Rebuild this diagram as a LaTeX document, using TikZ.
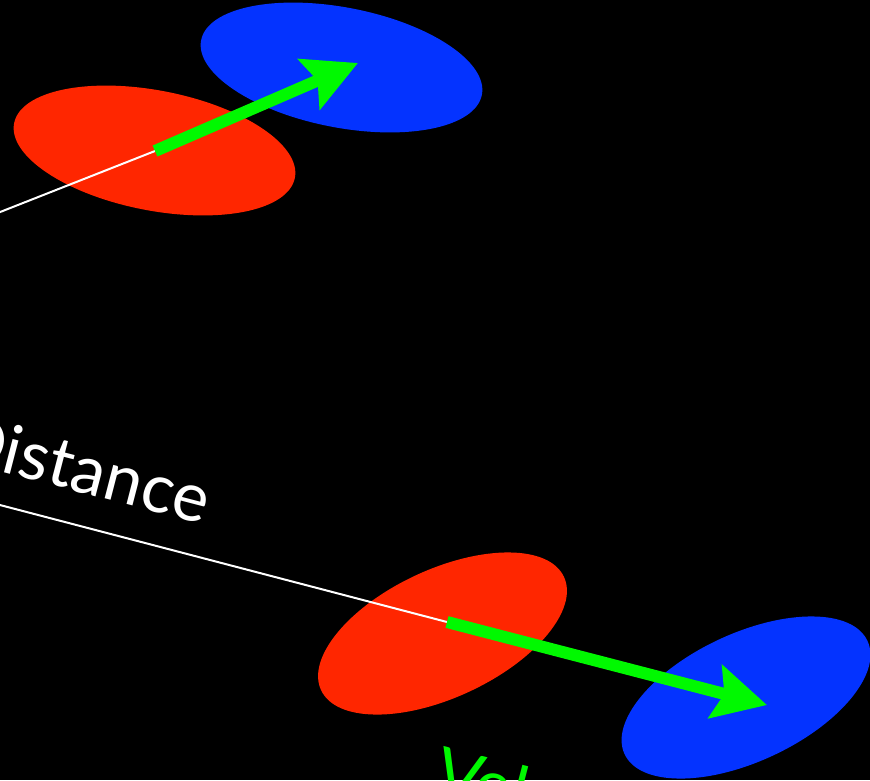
\documentclass[tikz,border=0pt]{standalone}
\usepackage{fontspec}
\setmainfont{Lato}
\usetikzlibrary{arrows.meta}
\definecolor{ballred}{RGB}{255,38,0}
\definecolor{ballblue}{RGB}{4,51,255}
\definecolor{velgreen}{RGB}{0,249,0}

\begin{document}
\begin{tikzpicture}[x=1pt,y=-1pt,
  guide/.style={draw=white,line width=2pt},
  velarrow/.style={draw=velgreen,fill=velgreen,line width=12pt,
    -{Stealth[length=53pt,width=54pt,inset=9pt]}},
  lbl/.style={font=\fontsize{68}{74}\selectfont,inner sep=0pt}]
  \useasboundingbox (0,0) rectangle (870,780);
  \fill[black] (0,0) rectangle (870,780);
  \clip (0,0) rectangle (870,780);
  % upper pair
  \begin{scope}
    \coordinate (r1) at (154.5,150.5);
    \coordinate (b1) at (341.5,67.5);
    \coordinate (g1) at (-10,216);
    \coordinate (s1) at (155,151);
    \coordinate (t1) at (358,63);
    \fill[ballblue,rotate around={-11:(b1)}] (b1) ellipse (143 and 60);
    \fill[ballred,rotate around={-11:(r1)}] (r1) ellipse (143 and 60);
    \draw[guide] (g1) -- (s1);
    \draw[velarrow] (s1) -- (t1);
  \end{scope}
  % lower pair
  \begin{scope}
    \coordinate (r2) at (442.5,633.5);
    \coordinate (b2) at (746,697.5);
    \coordinate (g2) at (-10,502.4);
    \coordinate (s2) at (447,622);
    \coordinate (t2) at (767,705);
    \fill[ballred,rotate around={25:(r2)}] (r2) ellipse (134 and 64);
    \fill[ballblue,rotate around={25:(b2)}] (b2) ellipse (134 and 64);
    \draw[guide] (g2) -- (s2);
    \draw[velarrow] (s2) -- (t2);
  \end{scope}
  % labels
  \node[lbl,white,rotate=-14.5,anchor=base east] (dist) at (203,524) {Distance};
  \node[lbl,velgreen,rotate=-14.5,anchor=base west] (vel) at (431,793) {Velocity};
\end{tikzpicture}
\end{document}
